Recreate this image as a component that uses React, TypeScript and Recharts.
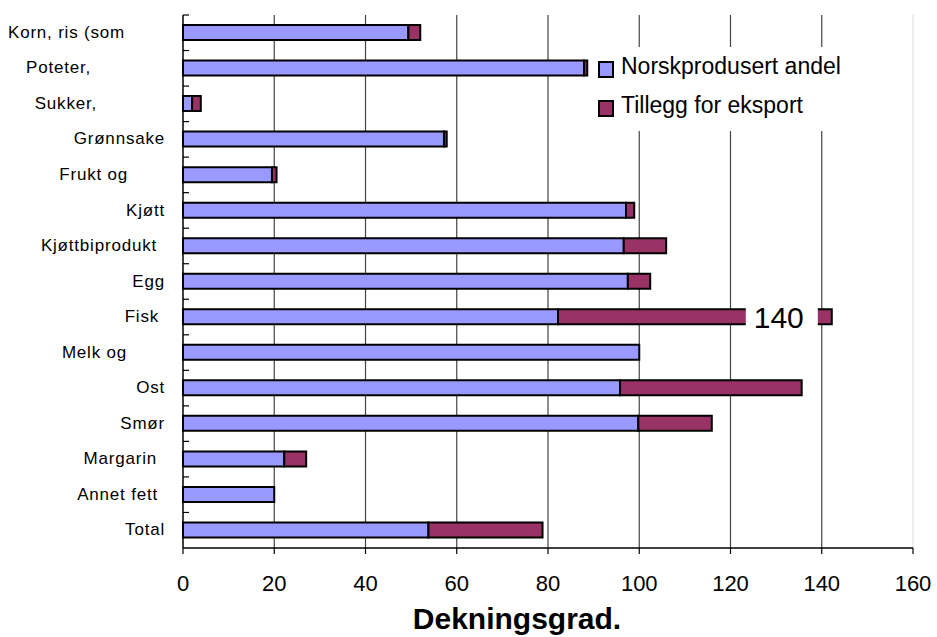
import {
  BarChart,
  Bar,
  XAxis,
  YAxis,
  CartesianGrid,
  Legend,
  LabelList,
  ReferenceLine,
} from "recharts";

const categories = [
  "Korn, ris (som",
  "Poteter,",
  "Sukker,",
  "Grønnsake",
  "Frukt og",
  "Kjøtt",
  "Kjøttbiprodukt",
  "Egg",
  "Fisk",
  "Melk og",
  "Ost",
  "Smør",
  "Margarin",
  "Annet fett",
  "Total",
];
const norskValues = [49.4, 87.9, 2.0, 57.2, 19.5, 97.1, 96.6, 97.5, 82.2, 100, 95.8, 99.8, 22.2, 20.0, 53.8];
const eksportValues = [2.6, 0.7, 1.9, 0.6, 1.0, 1.8, 9.3, 4.9, 60.0, 0, 39.8, 16.1, 4.8, 0, 25.0];
const valueLabels = ["", "", "", "", "", "", "", "", "140", "", "", "", "", "", ""];
const xTicks = [0, 20, 40, 60, 80, 100, 120, 140, 160];
const gridValues = [20, 40, 60, 80, 100, 120, 140];

const data = categories.map((name, i) => ({
  name,
  norsk: norskValues[i],
  eksport: eksportValues[i],
  label: valueLabels[i],
}));

const FONT = "'Liberation Sans', Arial, sans-serif";
const BLUE = "#9999ff";
const PURPLE = "#993366";
const AXIS_W = 183;

// the source labels are cut off, so they don't all end at the same place
const labelShift: Record<string, number> = {
  "Korn, ris (som": 41,
  "Poteter,": 75,
  "Sukker,": 69,
  "Frukt og": 38,
  Kjøttbiprodukt: 9,
  Fisk: 7,
  "Melk og": 39,
  Margarin: 9,
  "Annet fett": 8,
};

function CategoryTick(props: any) {
  const { y, payload } = props;
  const half = payload?.offset ?? 533 / 15 / 2;
  const shift = labelShift[payload.value] ?? 1;
  const top = y - half;
  return (
    <g>
      <line x1={AXIS_W} x2={AXIS_W + 6} y1={top} y2={top} stroke="#000" strokeWidth={1.2} />
      <text
        x={AXIS_W - 17 - shift}
        y={y}
        dy="0.3em"
        textAnchor="end"
        fontSize={17}
        letterSpacing={0.8}
        fontFamily={FONT}
        fill="#000"
      >
        {payload.value}
      </text>
    </g>
  );
}

function LegendBox(props: any) {
  const items = props.payload || [];
  return (
    <svg width={310} height={84} style={{ display: "block" }}>
      <rect x={0} y={0} width={310} height={84} fill="#fff" />
      {items.map((item: any, i: number) => (
        <g key={item.value} transform={`translate(0, ${i * 39})`}>
          <rect x={7} y={15} width={14} height={15} fill={item.color} stroke="#000" strokeWidth={2} />
          <text x={29} y={27} fontSize={23} fontFamily={FONT} fill="#000">
            {item.value}
          </text>
        </g>
      ))}
    </svg>
  );
}

function BreakLabel(props: any) {
  const { x, y, width, height, value } = props;
  if (!value) return null;
  const end = Number(x) + Number(width);
  return (
    <g>
      <rect x={end - 86} y={Number(y) - 3} width={72} height={Number(height) + 6} fill="#fff" />
      <text
        x={end - 53}
        y={Number(y) + Number(height) / 2}
        dy="0.36em"
        textAnchor="middle"
        fontSize={30}
        fontFamily={FONT}
        fill="#000"
      >
        {value}
      </text>
    </g>
  );
}

function AxisTitle(props: any) {
  const vb = props.viewBox;
  return (
    <text
      x={vb.x + vb.width / 2 - 31}
      y={vb.y + vb.height - 8}
      textAnchor="middle"
      fontSize={30}
      fontWeight="bold"
      fontFamily={FONT}
      fill="#000"
    >
      Dekningsgrad.
    </text>
  );
}

export default function App() {
  return (
    <div style={{ position: "absolute", left: 0, top: 0, fontFamily: FONT }}>
      <BarChart
        width={937}
        height={637}
        data={data}
        layout="vertical"
        margin={{ top: 15, right: 24, left: 0, bottom: 0 }}
      >
        <CartesianGrid
          horizontal={false}
          verticalValues={gridValues}
          stroke="#444"
          strokeWidth={1.2}
        />
        <ReferenceLine x={160} stroke="#e6e6e6" strokeWidth={1.5} />
        <XAxis
          type="number"
          domain={[0, 160]}
          ticks={xTicks}
          interval={0}
          height={89}
          tickSize={6}
          tickMargin={21}
          axisLine={{ stroke: "#000", strokeWidth: 1.5 }}
          tickLine={{ stroke: "#000", strokeWidth: 1.2 }}
          tick={{ fontSize: 22, fill: "#000", fontFamily: FONT }}
          label={{ content: AxisTitle }}
        />
        <YAxis
          type="category"
          dataKey="name"
          width={AXIS_W}
          interval={0}
          tickLine={false}
          axisLine={{ stroke: "#000", strokeWidth: 1.5 }}
          tick={CategoryTick}
        />
        <Legend
          layout="horizontal"
          verticalAlign="middle"
          content={LegendBox}
          wrapperStyle={{ left: 592, top: 47, width: 310, height: 84 }}
        />
        <Bar
          dataKey="norsk"
          name="Norskprodusert andel"
          stackId="a"
          fill={BLUE}
          stroke="#000"
          strokeWidth={2}
          barSize={15}
          isAnimationActive={false}
        />
        <Bar
          dataKey="eksport"
          name="Tillegg for eksport"
          stackId="a"
          fill={PURPLE}
          stroke="#000"
          strokeWidth={2}
          barSize={15}
          isAnimationActive={false}
        >
          <LabelList dataKey="label" content={BreakLabel} />
        </Bar>
      </BarChart>
    </div>
  );
}
